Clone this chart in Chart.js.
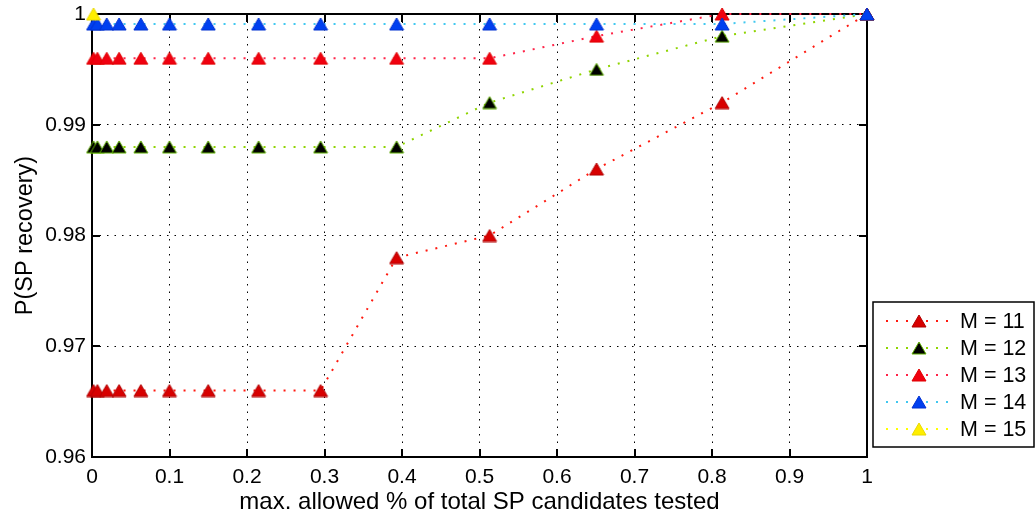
<!DOCTYPE html>
<html>
<head>
<meta charset="utf-8">
<script src="https://cdn.jsdelivr.net/npm/chart.js@4"></script>
<style>
    body { margin: 0; background: #fff; }
    #wrap { width: 1035px; height: 523px; position: relative; }
</style>
</head>
<body>
<div id="wrap"><canvas id="grafico"></canvas></div>
<script>
// fraction of SP candidates tested (same grid for every M)
var xValues = [0.002, 0.007, 0.019, 0.035, 0.063, 0.1, 0.15, 0.215, 0.295, 0.393, 0.513, 0.651, 0.813, 1];

var m11 = [0.966, 0.966, 0.966, 0.966, 0.966, 0.966, 0.966, 0.966, 0.966, 0.978, 0.980, 0.986, 0.992, 1];
var m12 = [0.988, 0.988, 0.988, 0.988, 0.988, 0.988, 0.988, 0.988, 0.988, 0.988, 0.992, 0.995, 0.998, 1];
var m13 = [0.996, 0.996, 0.996, 0.996, 0.996, 0.996, 0.996, 0.996, 0.996, 0.996, 0.996, 0.998, 1, 1];
var m14 = [0.9991, 0.9991, 0.9991, 0.9991, 0.9991, 0.9991, 0.9991, 0.9991, 0.9991, 0.9991, 0.9991, 0.9991, 0.9991, 1];
var m15 = [1];

var seriesLabels = ['M = 11', 'M = 12', 'M = 13', 'M = 14', 'M = 15'];
var xTicks = [0, 0.1, 0.2, 0.3, 0.4, 0.5, 0.6, 0.7, 0.8, 0.9, 1];
var yTicks = [0.96, 0.97, 0.98, 0.99, 1];

var fontName = "'Liberation Sans', Arial, Helvetica, sans-serif";

// triangle marker centred on its bounding box (like matlab '^')
function triangolo(riempimento, bordo) {
    var c = document.createElement('canvas');
    c.width = 16;
    c.height = 14;
    var g = c.getContext('2d');
    g.beginPath();
    g.moveTo(8, 1);
    g.lineTo(15, 13);
    g.lineTo(1, 13);
    g.closePath();
    g.fillStyle = riempimento;
    g.fill();
    g.strokeStyle = bordo;
    g.lineWidth = 1;
    g.stroke();
    return c;
}

function punti(valori) {
    var out = [];
    for (var i = 0; i < valori.length; i++) {
        out.push({ x: xValues[i], y: valori[i] });
    }
    return out;
}

function serie(label, valori, linea, riempimento, bordo, ordine) {
    return {
        label: label,
        data: punti(valori),
        showLine: true,
        clip: false,
        borderColor: linea,
        borderWidth: 2,
        borderDash: [2, 8],
        pointStyle: triangolo(riempimento, bordo),
        pointRadius: 8,
        pointHoverRadius: 8,
        order: ordine
    };
}

// later series are drawn on top (lower order = drawn last)
var datasets = [
    serie(seriesLabels[0], m11, '#ff1a10', '#d80000', '#b00000', 5),
    serie(seriesLabels[1], m12, '#8fd400', '#000000', '#5fb000', 4),
    serie(seriesLabels[2], m13, '#ff2448', '#f00010', '#e00000', 3),
    serie(seriesLabels[3], m14, '#40c8f0', '#0040f0', '#0030d0', 2),
    serie(seriesLabels[4], m15, '#ffff00', '#ffee00', '#e8d800', 1)
];

// box around the axes + inward tick marks
var cornice = {
    id: 'cornice',
    beforeDatasetsDraw: function (chart) {
        var ctx = chart.ctx;
        var a = chart.chartArea;
        var sx = chart.scales.x;
        var sy = chart.scales.y;
        ctx.save();
        ctx.strokeStyle = '#000';
        ctx.lineWidth = 2;
        ctx.beginPath();
        for (var i = 0; i < xTicks.length; i++) {
            var px = Math.round(sx.getPixelForValue(xTicks[i]));
            ctx.moveTo(px, a.bottom); ctx.lineTo(px, a.bottom - 8);
            ctx.moveTo(px, a.top); ctx.lineTo(px, a.top + 8);
        }
        for (var j = 0; j < yTicks.length; j++) {
            var py = Math.round(sy.getPixelForValue(yTicks[j]));
            ctx.moveTo(a.left, py); ctx.lineTo(a.left + 8, py);
            ctx.moveTo(a.right, py); ctx.lineTo(a.right - 8, py);
        }
        ctx.stroke();
        ctx.strokeRect(a.left, a.top, a.right - a.left, a.bottom - a.top);
        ctx.restore();
    }
};

var legenda = {
    id: 'legenda',
    afterDraw: function (chart) {
        var ctx = chart.ctx;
        var x0 = 873, y0 = 302, w = 161, h = 145;
        ctx.save();
        ctx.fillStyle = '#fff';
        ctx.fillRect(x0, y0, w, h);
        ctx.strokeStyle = '#000';
        ctx.lineWidth = 1.5;
        ctx.strokeRect(x0, y0, w, h);
        for (var i = 0; i < datasets.length; i++) {
            var d = datasets[i];
            var y = 321 + i * 27;
            ctx.strokeStyle = d.borderColor;
            ctx.lineWidth = 2;
            ctx.setLineDash([2, 8]);
            ctx.beginPath();
            ctx.moveTo(886, y);
            ctx.lineTo(952, y);
            ctx.stroke();
            ctx.setLineDash([]);
            ctx.drawImage(d.pointStyle, 911, y - 7);
            ctx.fillStyle = '#000';
            ctx.font = '21.5px ' + fontName;
            ctx.textBaseline = 'middle';
            ctx.fillText(d.label, 960, y + 1);
        }
        ctx.restore();
    }
};

var ctx = document.getElementById('grafico');
var grafico = new Chart(ctx, {
    type: 'scatter',
    data: { datasets: datasets },
    plugins: [cornice, legenda],
    options: {
        responsive: true,
        maintainAspectRatio: false,
        animation: false,
        layout: { padding: { top: 14, right: 168, bottom: 0, left: 0 } },
        plugins: {
            legend: { display: false },
            tooltip: { enabled: false }
        },
        scales: {
            x: {
                type: 'linear',
                min: 0,
                max: 1,
                afterFit: function (scale) {
                    scale.height = 66;
                    scale.paddingLeft = 0;
                    scale.paddingRight = 0;
                },
                afterBuildTicks: function (scale) {
                    scale.ticks = xTicks.map(function (v) { return { value: v }; });
                },
                ticks: {
                    color: '#000',
                    padding: 8,
                    maxRotation: 0,
                    font: { family: fontName, size: 21 },
                    callback: function (v) { return String(+v.toFixed(2)); }
                },
                grid: { color: '#000', lineWidth: 1, drawTicks: false },
                border: { display: false, dash: [1.5, 6] },
                title: {
                    display: true,
                    text: 'max. allowed % of total SP candidates tested',
                    color: '#000',
                    font: { family: fontName, size: 24 },
                    padding: { top: 0, bottom: 6 }
                }
            },
            y: {
                type: 'linear',
                min: 0.96,
                max: 1,
                afterFit: function (scale) {
                    scale.width = 92;
                    scale.paddingTop = 0;
                    scale.paddingBottom = 0;
                },
                afterBuildTicks: function (scale) {
                    scale.ticks = yTicks.map(function (v) { return { value: v }; });
                },
                ticks: {
                    color: '#000',
                    padding: 6,
                    font: { family: fontName, size: 21 },
                    callback: function (v) { return String(+v.toFixed(3)); }
                },
                grid: { color: '#000', lineWidth: 1, drawTicks: false },
                border: { display: false, dash: [1.5, 6] },
                title: {
                    display: true,
                    text: 'P(SP recovery)',
                    color: '#000',
                    font: { family: fontName, size: 23.5 },
                    padding: { top: 11, bottom: 0 }
                }
            }
        }
    }
});
</script>
</body>
</html>
